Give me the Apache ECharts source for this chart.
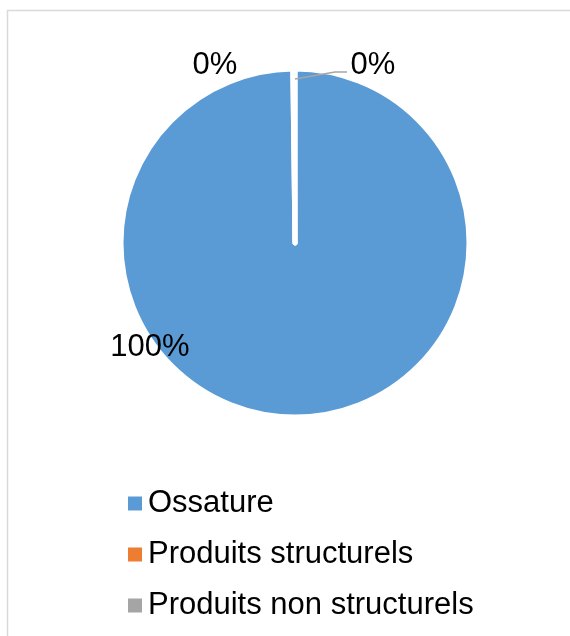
<!DOCTYPE html>
<html>
<head>
<meta charset="utf-8">
<script src="https://cdn.jsdelivr.net/npm/echarts@6/dist/echarts.min.js"></script>
<style>
html, body { margin: 0; padding: 0; background: #fff; }
#chart { width: 570px; height: 636px; }
</style>
</head>
<body>
<div id="chart"></div>
<script>
// categories and values
var categories = ['Ossature', 'Produits structurels', 'Produits non structurels'];
var values = [99.8, 0.1, 0.1];
var colors = ['#5b9bd5', '#ed7d31', '#a5a5a5'];

// where excel put the data labels
var labelPos = [[150, 347], [215, 65], [373, 65]];

var myChart = echarts.init(document.getElementById('chart'));

var pieData = categories.map(function (name, i) {
	return {
		name: name,
		value: values[i],
		itemStyle: { color: colors[i] }
	};
});

var option = {
	animation: false,
	textStyle: { fontFamily: 'Liberation Sans, Arial, sans-serif' },
	graphic: [{
		type: 'polyline',
		shape: { points: [[7.5, 636], [7.5, 10.5], [570, 10.5]] },
		style: { stroke: '#d9d9d9', lineWidth: 1.5, fill: null },
		silent: true
	}, {
		// leader line of the last label, drawn over the pie
		type: 'polyline',
		z: 100,
		shape: { points: [[295, 79], [335, 72], [347, 72]] },
		style: { stroke: '#a6a6a6', lineWidth: 1.5, fill: null },
		silent: true
	}],
	legend: {
		orient: 'vertical',
		left: 121,
		top: 483,
		itemWidth: 16,
		itemHeight: 16,
		itemGap: 20,
		icon: 'rect',
		selectedMode: false,
		data: categories,
		textStyle: {
			fontSize: 31,
			lineHeight: 31,
			color: '#000',
			padding: [0, 0, 0, 0],
			fontFamily: 'Liberation Sans, Arial, sans-serif'
		}
	},
	series: [{
		type: 'pie',
		center: [295, 243],
		radius: 174,
		startAngle: 90,
		clockwise: true,
		percentPrecision: 0,
		avoidLabelOverlap: false,
		emphasis: { disabled: true },
		itemStyle: { borderColor: '#fff', borderWidth: 5 },
		label: {
			show: true,
			position: 'outside',
			formatter: '{d}%',
			fontSize: 31,
			color: '#000',
			fontFamily: 'Liberation Sans, Arial, sans-serif'
		},
		labelLine: { show: false },
		labelLayout: function (params) {
			var p = labelPos[params.dataIndex];
			return { x: p[0], y: p[1], align: 'center', verticalAlign: 'middle' };
		},
		data: pieData
	}]
};

myChart.setOption(option, true);
</script>
</body>
</html>
